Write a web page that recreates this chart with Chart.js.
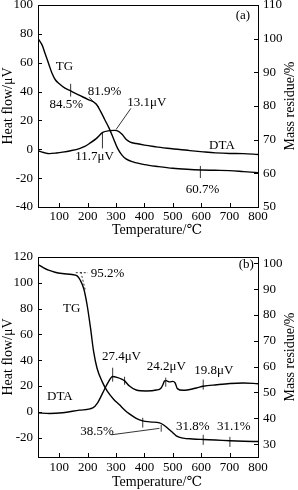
<!DOCTYPE html>
<html>
<head>
<meta charset="utf-8">
<script src="https://cdn.jsdelivr.net/npm/chart.js@4.4.0/dist/chart.umd.min.js"></script>
<style>
  html, body { margin: 0; padding: 0; background: #fff; }
  canvas { position: absolute; left: 0; }
  #chartA { top: 0; }
  #chartB { top: 245px; }
</style>
</head>
<body>
<canvas id="chartA" width="298" height="245"></canvas>
<canvas id="chartB" width="298" height="245"></canvas>
<script>
// x ticks shared by both panels
const tempTicks = [100, 200, 300, 400, 500, 600, 700, 800];

// panel (a)
const tgTempA = [25, 40, 50, 62, 74, 86, 100, 120, 140, 170, 200, 230, 245, 260, 275, 290, 305, 320, 335, 360, 400, 450, 500, 550, 600, 650, 700, 750, 800];
const tgMassA = [100, 98, 95.6, 92.7, 89.8, 87.8, 86.6, 85.3, 84.5, 83.2, 82, 80.6, 78.5, 76, 73.5, 70.5, 67.5, 65.5, 64.3, 63.4, 62.6, 62, 61.5, 61.2, 61, 60.9, 60.8, 60.5, 60.2];
const dtaTempA = [25, 45, 65, 90, 112, 140, 171, 190, 206, 230, 253, 277, 295, 310, 322, 336, 350, 371, 400, 442, 480, 524, 560, 607, 650, 701, 748, 800];
const dtaHeatA = [-1, -2.2, -3, -2.6, -2, -1, 0.5, 2, 4, 7.4, 11.7, 12.9, 13.1, 12.3, 10.2, 6.8, 5, 4, 2.9, 1.7, 0.7, -0.1, -0.9, -1.8, -2.5, -2.9, -3, -3.6];
const heatTicksA = [-40, -20, 0, 20, 40, 60, 80, 100];
const massTicksA = [50, 60, 70, 80, 90, 100, 110];

// panel (b)
const tgTempB = [25, 45, 62, 85, 110, 145, 163, 174, 186, 198, 210, 221, 233, 251, 269, 292, 312, 330, 347, 371, 394, 420, 453, 465, 477, 489, 500, 512, 536, 570, 607, 650, 701, 750, 800];
const tgMassB = [99.6, 98.3, 97.4, 96.6, 96.1, 95.7, 95.2, 93.5, 90.3, 83.9, 75, 65.8, 59.4, 54.2, 50.5, 47.3, 45.2, 43.2, 41.7, 40, 39, 38.6, 38.2, 37.6, 36.6, 35.5, 34.4, 33.2, 32.3, 32, 31.8, 31.6, 31.3, 31.1, 31];
const dtaTempB = [25, 65, 112, 171, 218, 235, 253, 271, 288, 306, 318, 330, 347, 371, 406, 442, 458, 465, 471, 476, 489, 500, 508, 516, 536, 583, 607, 654, 701, 748, 800];
const dtaHeatB = [-0.8, -1.3, -0.7, 1.3, 3.1, 7, 14.7, 22.4, 27.4, 26.5, 25.5, 24, 20, 16.9, 16.2, 16.9, 18.3, 21, 24, 24.2, 23.2, 23.6, 22.5, 18, 16.7, 18.5, 19.8, 21, 22, 22.4, 21.8];
const heatTicksB = [-20, 0, 20, 40, 60, 80, 100, 120];
const massTicksB = [30, 40, 50, 60, 70, 80, 90, 100];

// labels placed in data units: [text, temperature, value, axis]
const notesA = [
  ['(a)', 747, 92.4, 'y'],
  ['TG', 118, 91.6, 'y2'],
  ['84.5%', 125, 80.5, 'y2'],
  ['81.9%', 259, 84.4, 'y2'],
  ['13.1\u03bcV', 408, 32.3, 'y'],
  ['11.7\u03bcV', 224, -4.8, 'y'],
  ['DTA', 673, 2.8, 'y'],
  ['60.7%', 605, 55.3, 'y2']
];
const marksA = [
  [[140, 86.6], [140, 82.8], 'y2'],
  [[205, 82.6], [238, 79.8], 'y2'],
  [[352, 28.3], [300, 13.7], 'y'],
  [[252, 11.4], [252, 0.6], 'y'],
  [[597, 62.2], [597, 58.6], 'y2']
];
const notesB = [
  ['(b)', 759, 114.5, 'y'],
  ['95.2%', 270, 95.9, 'y2'],
  ['TG', 144, 82.7, 'y2'],
  ['27.4\u03bcV', 319, 42.7, 'y'],
  ['24.2\u03bcV', 477, 35.2, 'y'],
  ['19.8\u03bcV', 644, 31.9, 'y'],
  ['DTA', 102, 11.8, 'y'],
  ['38.5%', 233, 34.8, 'y2'],
  ['31.8%', 570, 36.7, 'y2'],
  ['31.1%', 715, 36.7, 'y2']
];
const marksB = [
  [[288, 34.2], [288, 23.4], 'y'],
  [[330, 27.2], [330, 21], 'y'],
  [[475, 26.5], [475, 19.5], 'y'],
  [[607, 25], [607, 17.2], 'y'],
  [[283, 33.6], [453, 36.1], 'y2'],
  [[394, 40.2], [394, 36.4], 'y2'],
  [[459, 37.5], [459, 34.8], 'y2'],
  [[607, 33.6], [607, 29.7], 'y2'],
  [[701, 32.8], [701, 28.9], 'y2'],
  [[158, 96.4], [201, 96.4], 'y2', true],
  [[176, 96.7], [192, 89.5], 'y2', true]
];

const FONT = '"Liberation Serif", "DejaVu Serif", serif';

const pairs = (xs, ys) => xs.map((x, i) => ({ x: x, y: ys[i] }));

// frame, inward ticks, titles and notes
const framePlugin = {
  id: 'frame',
  afterDraw(chart, args, opts) {
    const ctx = chart.ctx;
    const a = chart.chartArea;
    const s = chart.scales;
    ctx.save();
    ctx.strokeStyle = '#000';
    ctx.lineWidth = 1;
    ctx.strokeRect(Math.round(a.left) + 0.5, Math.round(a.top) + 0.5, Math.round(a.right - a.left), Math.round(a.bottom - a.top));

    ctx.beginPath();
    s.x.ticks.forEach(t => {
      const px = Math.round(s.x.getPixelForValue(t.value)) + 0.5;
      ctx.moveTo(px, a.bottom); ctx.lineTo(px, a.bottom - 4);
    });
    s.y.ticks.forEach(t => {
      const py = Math.round(s.y.getPixelForValue(t.value)) + 0.5;
      ctx.moveTo(a.left, py); ctx.lineTo(a.left + 4, py);
    });
    s.y2.ticks.forEach(t => {
      const py = Math.round(s.y2.getPixelForValue(t.value)) + 0.5;
      ctx.moveTo(a.right, py); ctx.lineTo(a.right - 4, py);
    });
    ctx.stroke();

    // annotation lines
    opts.marks.forEach(m => {
      const ys = s[m[2]];
      ctx.beginPath();
      ctx.setLineDash(m[3] ? [2, 2] : []);
      ctx.lineWidth = 0.8;
      ctx.moveTo(s.x.getPixelForValue(m[0][0]), ys.getPixelForValue(m[0][1]));
      ctx.lineTo(s.x.getPixelForValue(m[1][0]), ys.getPixelForValue(m[1][1]));
      ctx.stroke();
    });
    ctx.setLineDash([]);

    ctx.fillStyle = '#000';
    ctx.font = '13px ' + FONT;
    ctx.textAlign = 'center';
    ctx.textBaseline = 'middle';
    opts.notes.forEach(n => {
      ctx.fillText(n[0], s.x.getPixelForValue(n[1]), s[n[3]].getPixelForValue(n[2]));
    });

    // axis titles
    const midY = (a.top + a.bottom) / 2;
    ctx.font = '14px ' + FONT;
    ctx.fillText('Temperature/\u2103', 157, opts.xTitleY);
    ctx.save();
    ctx.translate(8, midY);
    ctx.rotate(-Math.PI / 2);
    ctx.fillText('Heat flow/\u03bcV', 0, 0);
    ctx.restore();
    ctx.save();
    ctx.translate(290, midY);
    ctx.rotate(-Math.PI / 2);
    ctx.fillText('Mass residue/%', 0, 0);
    ctx.restore();
    ctx.restore();
  }
};

function tickSet(values) {
  return scale => { scale.ticks = values.map(v => ({ value: v })); };
}

function makePanel(id, p) {
  const tickFont = { family: FONT, size: 13 };
  new Chart(document.getElementById(id), {
    type: 'line',
    data: {
      datasets: [
        { label: 'TG', data: pairs(p.tgT, p.tgM), yAxisID: 'y2' },
        { label: 'DTA', data: pairs(p.dtaT, p.dtaH), yAxisID: 'y' }
      ]
    },
    options: {
      responsive: false,
      animation: false,
      layout: { padding: { top: p.top, left: 0, right: 0, bottom: 0 } },
      elements: {
        point: { radius: 0 },
        line: { borderColor: '#000', borderWidth: 1.4, cubicInterpolationMode: 'monotone' }
      },
      plugins: {
        legend: { display: false },
        tooltip: { enabled: false },
        frame: { notes: p.notes, marks: p.marks, xTitleY: p.xTitleY }
      },
      scales: {
        x: {
          type: 'linear', min: 25, max: 800,
          afterBuildTicks: tickSet(tempTicks),
          afterFit: s => { s.height = p.xh; s.paddingLeft = 0; s.paddingRight = 0; },
          grid: { display: false, drawTicks: false },
          border: { display: false },
          ticks: { font: tickFont, color: '#000', padding: p.xpad, maxRotation: 0, autoSkip: false }
        },
        y: {
          position: 'left', min: p.hMin, max: p.hMax,
          afterBuildTicks: tickSet(p.hTicks),
          afterFit: s => { s.width = 38; s.paddingTop = 0; s.paddingBottom = 0; },
          grid: { display: false, drawTicks: false },
          border: { display: false },
          ticks: { font: tickFont, color: '#000', padding: 5, autoSkip: false }
        },
        y2: {
          position: 'right', min: p.mMin, max: p.mMax,
          afterBuildTicks: tickSet(p.mTicks),
          afterFit: s => { s.width = 40; s.paddingTop = 0; s.paddingBottom = 0; },
          grid: { display: false, drawTicks: false },
          border: { display: false },
          ticks: { font: tickFont, color: '#000', padding: 5, autoSkip: false }
        }
      }
    },
    plugins: [framePlugin]
  });
}

makePanel('chartA', {
  tgT: tgTempA, tgM: tgMassA, dtaT: dtaTempA, dtaH: dtaHeatA,
  hMin: -40, hMax: 100, hTicks: heatTicksA,
  mMin: 50, mMax: 110, mTicks: massTicksA,
  top: 5, xh: 38, xpad: 2, xTitleY: 230,
  notes: notesA, marks: marksA
});

makePanel('chartB', {
  tgT: tgTempB, tgM: tgMassB, dtaT: dtaTempB, dtaH: dtaHeatB,
  hMin: -35, hMax: 120, hTicks: heatTicksB,
  mMin: 25, mMax: 102.5, mTicks: massTicksB,
  top: 12, xh: 33, xpad: 3, xTitleY: 237,
  notes: notesB, marks: marksB
});
</script>
</body>
</html>
